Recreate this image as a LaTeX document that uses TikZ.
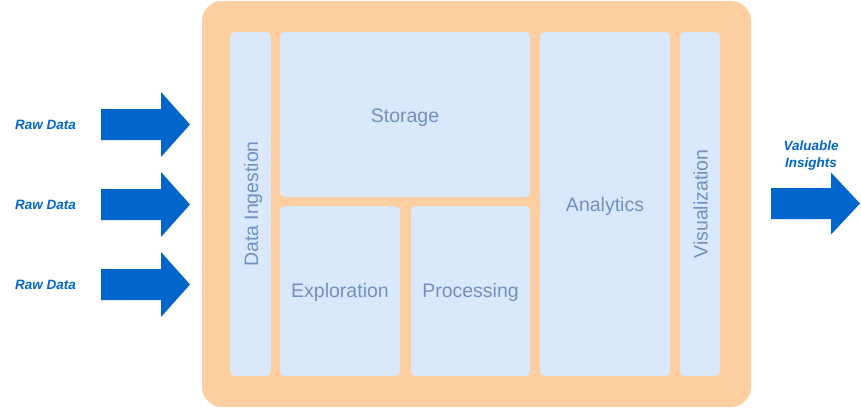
\documentclass[tikz,border=0pt]{standalone}
\usepackage{fontspec}
\setmainfont{Liberation Sans}
\begin{document}
\begin{tikzpicture}[x=1pt,y=-1pt,
  frame/.style={fill=orangebg,rounded corners=20pt},
  block/.style={fill=blockbg,rounded corners=5pt},
  blocktext/.style={text=blocktxt,font=\fontsize{19.5}{22}\selectfont,inner sep=0pt,text height=14pt,text depth=0pt},
  inlabel/.style={text=arrowblue,font=\fontsize{13.5}{17}\selectfont\bfseries\itshape,inner sep=0pt,align=center},
  bigarrow/.style={fill=arrowblue}]
\definecolor{orangebg}{HTML}{FDCEA0}
\definecolor{blockbg}{HTML}{DAE8FC}
\definecolor{blocktxt}{HTML}{7090BE}
\definecolor{arrowblue}{HTML}{0066CC}
\useasboundingbox (0,0) rectangle (861,408);
% outer frame
\fill[frame] (202,1) rectangle (751,407);
% blocks
\fill[block] (230,32) rectangle (271,376);
\fill[block] (280,32) rectangle (530,197);
\fill[block] (280,206) rectangle (400,376);
\fill[block] (411,206) rectangle (530,376);
\fill[block] (540,32) rectangle (670,376);
\fill[block] (680,32) rectangle (720,376);
\node[blocktext,rotate=90] (ingest) at (251,204) {Data Ingestion};
\node[blocktext] (storage) at (405,115) {Storage};
\node[blocktext] (explore) at (340,290) {Exploration};
\node[blocktext] (process) at (470.5,290) {Processing};
\node[blocktext] (analytics) at (605,204) {Analytics};
\node[blocktext,rotate=90] (visual) at (700.5,204) {Visualization};
% input arrows
\foreach \cy/\nm in {124.5/rawa,204.5/rawb,284.5/rawc}{
  \fill[bigarrow] (101,\cy-15.5) -- (161,\cy-15.5) -- (161,\cy-32.5) -- (190,\cy)
     -- (161,\cy+32.5) -- (161,\cy+15.5) -- (101,\cy+15.5) -- cycle;
  \node[inlabel] (\nm) at (45.5,\cy) {Raw Data};
}
% output arrow
\fill[bigarrow] (771,188) -- (831,188) -- (831,172.5) -- (860,203.5)
   -- (831,234.5) -- (831,219) -- (771,219) -- cycle;
\node[inlabel] (insights) at (811,155.5) {Valuable\\Insights};
\end{tikzpicture}
\end{document}
